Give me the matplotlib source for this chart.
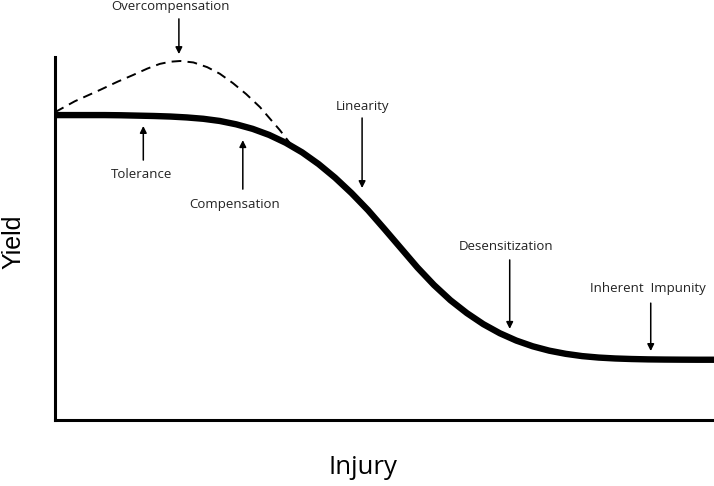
import matplotlib.pyplot as plt

plt.rcParams['font.family'] = ['Open Sans', 'DejaVu Sans']

# yield-loss curve (injury 0-100, yield 0-100)
injury = [0, 2.5, 5, 7.5, 10, 12.5, 15, 17.5, 20, 22.5, 25, 27.5, 30, 32.5, 35, 37.5, 40,
          42.5, 45, 47.5, 50, 52.5, 55, 57.5, 60, 62.5, 65, 67.5, 70, 72.5, 75, 77.5, 80,
          82.5, 85, 87.5, 90, 92.5, 95, 97.5, 100]
yield_ = [84.0, 84.0, 84.0, 84.0, 83.95, 83.85, 83.75, 83.6, 83.35, 82.98, 82.38, 81.45,
          80.2, 78.53, 76.38, 73.73, 70.5, 66.75, 62.5, 57.8, 52.6, 47.3, 42.0, 37.2, 33.0,
          29.45, 26.4, 23.9, 21.88, 20.3, 19.1, 18.23, 17.6, 17.2, 16.95, 16.8, 16.7, 16.65,
          16.62, 16.6, 16.6]

# overcompensation branch
over_x = [0, 3, 6.8, 9.5, 11.8, 14, 15.9, 17.5, 19.0, 21, 23.1, 25, 27.0, 29, 31.1, 33, 34.1, 36.1]
over_y = [84.8, 87.8, 90.9, 93.2, 95.0, 96.8, 98.1, 98.7, 98.9, 98.5, 97.2, 95.4, 92.8, 89.8,
          86.2, 82.2, 79.9, 75.2]

labels = ['Overcompensation', 'Tolerance', 'Compensation', 'Linearity',
          'Desensitization', 'Inherent  Impunity']
label_pos = [(17.6, 113.8), (13.2, 67.5), (27.2, 59.5), (46.7, 86.5), (68.4, 47.7), (90.0, 36.1)]
arrow_tail = [(18.8, 110.5), (13.4, 71.6), (28.5, 63.6), (46.6, 83.2), (69.0, 44.1), (90.4, 32.2)]
arrow_head = [(18.8, 100.8), (13.4, 81.0), (28.5, 77.1), (46.6, 63.9), (69.0, 25.1), (90.4, 19.0)]

fig = plt.figure(figsize=(7.14, 4.86), dpi=100)
ax = fig.add_axes([55 / 714, 66 / 486, 659 / 714, 363 / 486])

ax.plot(injury, yield_, color='black', linewidth=4.6, solid_capstyle='butt', solid_joinstyle='round')
ax.plot(over_x, over_y, color='black', linewidth=1.4, dashes=(5, 3.2))

for txt, pos in zip(labels, label_pos):
    ax.text(pos[0], pos[1], txt, ha='center', va='center', fontsize=9.5, color='#222222')
for tail, head in zip(arrow_tail, arrow_head):
    ax.annotate('', xy=head, xytext=tail, annotation_clip=False,
                arrowprops=dict(arrowstyle='-|>', color='black', lw=1.1,
                                mutation_scale=10, shrinkA=0, shrinkB=0))

ax.set_xlim(0, 100)
ax.set_ylim(0, 100)
ax.spines['top'].set_visible(False)
ax.spines['right'].set_visible(False)
ax.spines['left'].set_linewidth(2.2)
ax.spines['bottom'].set_linewidth(2.2)
ax.set_xticks([])
ax.set_yticks([])

fig.text(363 / 714, 1 - 467 / 486, 'Injury', fontsize=18.5, ha='center', va='center')
fig.text(13 / 714, 1 - 242 / 486, 'Yield', fontsize=18, rotation=90, ha='center', va='center',
         family=['Liberation Sans', 'DejaVu Sans'])

fig.savefig('out.png', dpi=100)
